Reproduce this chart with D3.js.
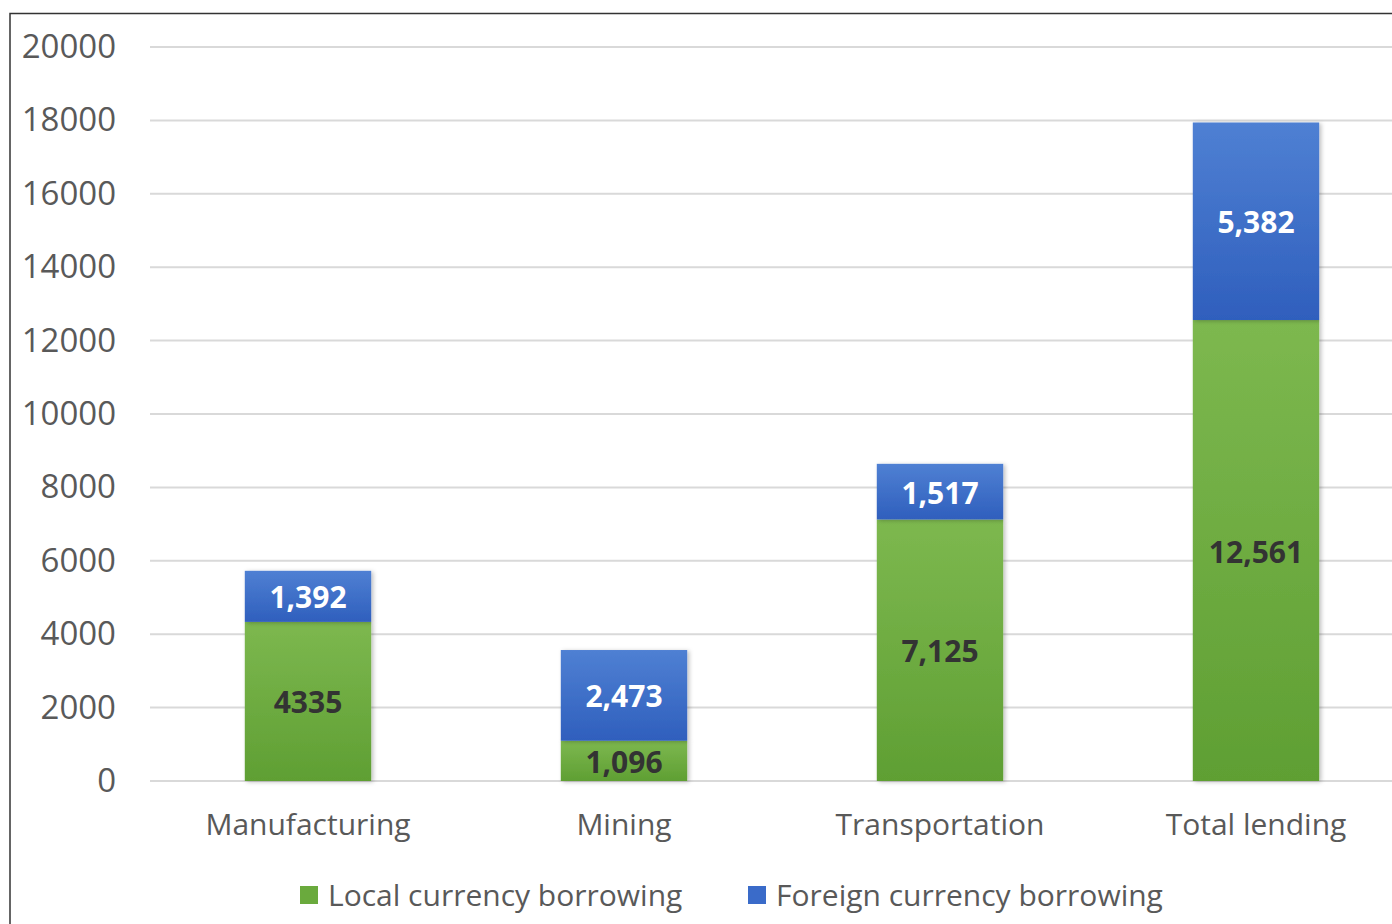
<!DOCTYPE html>
<html>
<head>
<meta charset="utf-8">
<script src="https://cdn.jsdelivr.net/npm/d3@7"></script>
<style>
  body { margin: 0; background: #fff; }
  svg { display: block; font-family: "Open Sans", sans-serif; }
</style>
</head>
<body>
<svg id="chart" width="1392" height="924"></svg>
<script>
/* chart data */
const categories = ["Manufacturing", "Mining", "Transportation", "Total lending"];
const localBorrowing = [4335, 1096, 7125, 12561];
const foreignBorrowing = [1392, 2473, 1517, 5382];
const localLabels = ["4335", "1,096", "7,125", "12,561"];
const foreignLabels = ["1,392", "2,473", "1,517", "5,382"];
const seriesNames = ["Local currency borrowing", "Foreign currency borrowing"];
const yTicks = [0, 2000, 4000, 6000, 8000, 10000, 12000, 14000, 16000, 18000, 20000];

const width = 1392, height = 924;
const margin = { left: 150, right: -22, top: 47, bottom: 143 };

const svg = d3.select("#chart");

/* gradients for the bars */
const defs = svg.append("defs");
function grad(id, top, bottom) {
  const g = defs.append("linearGradient").attr("id", id)
    .attr("x1", 0).attr("y1", 0).attr("x2", 0).attr("y2", 1);
  g.append("stop").attr("offset", "0%").attr("stop-color", top);
  g.append("stop").attr("offset", "100%").attr("stop-color", bottom);
}
grad("gLocal", "#7db84f", "#5f9f33");
grad("gForeign", "#4f80d3", "#2f5fbd");
const shadow = defs.append("filter").attr("id", "shadow")
  .attr("x", "-10%").attr("y", "-10%").attr("width", "130%").attr("height", "130%");
shadow.append("feDropShadow").attr("dx", 2).attr("dy", 1).attr("stdDeviation", 2)
  .attr("flood-color", "#000").attr("flood-opacity", 0.25);

/* border */
svg.append("path")
  .attr("d", `M10,${height} V13.5 H${width}`)
  .attr("fill", "none").attr("stroke", "#333").attr("stroke-width", 1.5);

/* scales */
const x = d3.scaleBand().domain(categories)
  .range([margin.left, width - margin.right]).paddingInner(0.6).paddingOuter(0.3);
const y = d3.scaleLinear().domain([0, 20000])
  .range([height - margin.bottom, margin.top]);

/* gridlines */
svg.append("g").selectAll("line").data(yTicks).join("line")
  .attr("x1", margin.left).attr("x2", width)
  .attr("y1", d => y(d)).attr("y2", d => y(d))
  .attr("stroke", "#d9d9d9").attr("stroke-width", 2);

/* y axis */
const yAxis = svg.append("g")
  .attr("transform", `translate(${margin.left},0)`)
  .call(d3.axisLeft(y).tickValues(yTicks).tickSize(0).tickPadding(34).tickFormat(d3.format("d")));
yAxis.select(".domain").remove();
yAxis.selectAll("text").attr("font-size", 33).attr("fill", "#595959")
  .attr("font-family", "Open Sans, sans-serif");

/* x axis */
const xAxis = svg.append("g")
  .attr("transform", `translate(0,${y(0)})`)
  .call(d3.axisBottom(x).tickSize(0).tickPadding(33));
xAxis.select(".domain").remove();
xAxis.selectAll("text").attr("font-size", 30).attr("fill", "#595959")
  .attr("font-family", "Open Sans, sans-serif");

/* stacked bars */
const rows = categories.map((c, i) => ({ cat: c, local: localBorrowing[i], foreign: foreignBorrowing[i], i }));
const bars = svg.append("g");
bars.selectAll("rect.local").data(rows).join("rect")
  .attr("class", "local")
  .attr("x", d => x(d.cat)).attr("width", x.bandwidth())
  .attr("y", d => y(d.local)).attr("height", d => y(0) - y(d.local))
  .attr("fill", "url(#gLocal)").attr("filter", "url(#shadow)");
bars.selectAll("rect.foreign").data(rows).join("rect")
  .attr("class", "foreign")
  .attr("x", d => x(d.cat)).attr("width", x.bandwidth())
  .attr("y", d => y(d.local + d.foreign)).attr("height", d => y(d.local) - y(d.local + d.foreign))
  .attr("fill", "url(#gForeign)").attr("filter", "url(#shadow)");

/* value labels */
const labels = svg.append("g").attr("text-anchor", "middle")
  .attr("font-size", 30).attr("font-weight", "bold");
labels.selectAll("text.local").data(rows).join("text")
  .attr("x", d => x(d.cat) + x.bandwidth() / 2)
  .attr("y", d => y(d.local / 2))
  .attr("dy", "0.4em").attr("fill", "#333")
  .text(d => localLabels[d.i]);
labels.selectAll("text.foreign").data(rows).join("text")
  .attr("x", d => x(d.cat) + x.bandwidth() / 2)
  .attr("y", d => y(d.local + d.foreign / 2))
  .attr("dy", "0.4em").attr("fill", "#fff")
  .text(d => foreignLabels[d.i]);

/* legend */
const legendColors = ["#6aaa3d", "#3a6bc9"];
const legendX = [300, 748];
const legend = svg.append("g");
seriesNames.forEach((name, i) => {
  legend.append("rect").attr("x", legendX[i]).attr("y", 886)
    .attr("width", 18).attr("height", 18).attr("fill", legendColors[i]);
  legend.append("text").attr("x", legendX[i] + 28).attr("y", 895)
    .attr("dy", "0.35em").attr("font-size", 30).attr("fill", "#595959")
    .text(name);
});
</script>
</body>
</html>
